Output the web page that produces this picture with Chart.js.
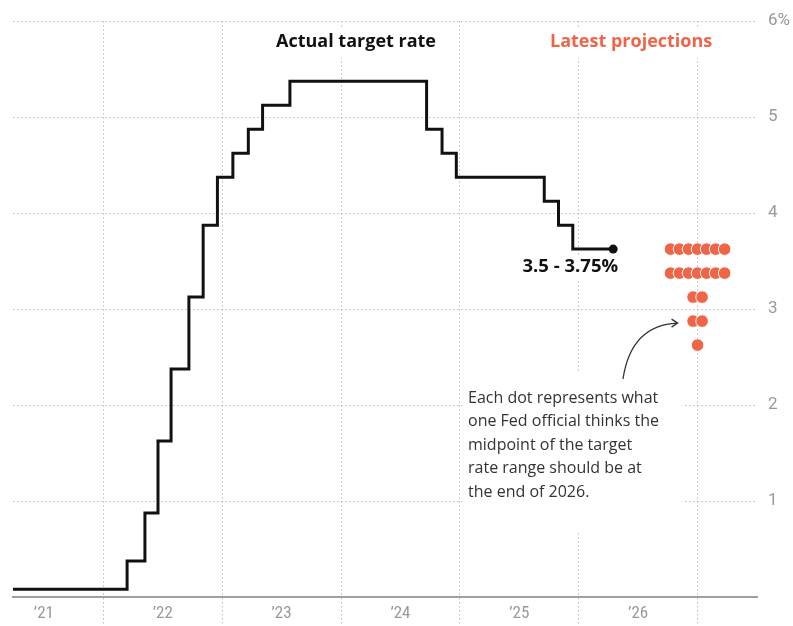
<!DOCTYPE html>
<html>
<head>
<meta charset="utf-8">
<script src="https://cdn.jsdelivr.net/npm/chart.js@4.4.1/dist/chart.umd.min.js"></script>
<style>
  body { margin: 0; background: #fff; }
  #wrap { width: 793px; height: 626px; }
</style>
</head>
<body>
<div id="wrap"><canvas id="grafico" width="793" height="626"></canvas></div>
<script>
// datas das decisões (ano decimal) e ponto médio da faixa
const rateDates = [2021.24, 2022.20, 2022.35, 2022.46, 2022.57, 2022.72, 2022.84, 2022.96, 2023.09, 2023.22, 2023.34, 2023.57, 2024.72, 2024.85, 2024.97, 2025.71, 2025.83, 2025.95, 2026.29];
const rateValues = [0.08, 0.375, 0.875, 1.625, 2.375, 3.125, 3.875, 4.375, 4.625, 4.875, 5.125, 5.375, 4.875, 4.625, 4.375, 4.125, 3.875, 3.625, 3.625];

// projeções para o fim de 2026
const projYear = 2027;
const projLevels = [3.625, 3.375, 3.125, 2.875, 2.625];
const projCounts = [7, 7, 2, 2, 1];

const yearTicks = [2021.5, 2022.5, 2023.5, 2024.5, 2025.5, 2026.5];
const yearLabels = ['\u201921', '\u201922', '\u201923', '\u201924', '\u201925', '\u201926'];
const yearLines = [2022, 2023, 2024, 2025, 2026, 2027];
const yTicks = [0, 1, 2, 3, 4, 5, 6];
const yLabels = ['', '1', '2', '3', '4', '5', '6%'];

const laranja = '#ef6548';
const gridCor = '#bdbdbd';
const fonte = '"Open Sans", Roboto, sans-serif';
const dotStep = 0.076; // espaçamento entre bolinhas, em anos

const linhaPontos = rateDates.map((d, i) => ({ x: d, y: rateValues[i] }));
const projPontos = [];
projLevels.forEach((nivel, r) => {
  const n = projCounts[r];
  for (let i = 0; i < n; i++) {
    projPontos.push({ x: projYear + (i - (n - 1) / 2) * dotStep, y: nivel });
  }
});

const anotacoes = {
  id: 'anotacoes',
  beforeDatasetsDraw(chart) {
    const ctx = chart.ctx;
    const x = chart.scales.x, y = chart.scales.y;
    ctx.save();
    ctx.fillStyle = '#fff';
    // fundos brancos por trás dos textos
    ctx.fillRect(268, 28, 176, 30);
    ctx.fillRect(544, 28, 178, 30);
    ctx.fillRect(462, 372, 220, 160);
    const ex = x.getPixelForValue(rateDates[rateDates.length - 1]);
    const ey = y.getPixelForValue(rateValues[rateValues.length - 1]);
    ctx.fillRect(ex - 96, ey + 8, 106, 24);
    ctx.restore();
  },
  afterDraw(chart) {
    const ctx = chart.ctx;
    const x = chart.scales.x, y = chart.scales.y;
    ctx.save();
    ctx.textBaseline = 'middle';
    ctx.textAlign = 'left';
    ctx.font = 'bold 18px ' + fonte;
    ctx.fillStyle = '#111';
    ctx.fillText('Actual target rate', 276, 42);
    ctx.fillStyle = laranja;
    ctx.fillText('Latest projections', 550, 42);

    // rótulo do último valor
    const ex = x.getPixelForValue(rateDates[rateDates.length - 1]);
    const ey = y.getPixelForValue(rateValues[rateValues.length - 1]);
    ctx.font = 'bold 18.5px ' + fonte;
    ctx.fillStyle = '#111';
    ctx.textAlign = 'right';
    ctx.fillText('3.5 - 3.75%', ex + 5, ey + 18);

    // nota explicativa
    ctx.textAlign = 'left';
    ctx.font = '16px ' + fonte;
    ctx.fillStyle = '#333';
    const linhas = ['Each dot represents what', 'one Fed official thinks the', 'midpoint of the target', 'rate range should be at', 'the end of 2026.'];
    linhas.forEach((t, i) => ctx.fillText(t, 468, 398 + i * 23.5));

    // seta curva
    const sx = 623, sy = 379;
    const tx = x.getPixelForValue(projYear) - 20, ty = y.getPixelForValue(2.875) + 2;
    ctx.strokeStyle = '#333';
    ctx.lineWidth = 1.3;
    ctx.beginPath();
    ctx.moveTo(sx, sy);
    ctx.quadraticCurveTo(sx + 8, ty + 2, tx, ty);
    ctx.stroke();
    ctx.beginPath();
    ctx.moveTo(tx - 6, ty - 4);
    ctx.lineTo(tx, ty);
    ctx.lineTo(tx - 6, ty + 4);
    ctx.stroke();
    ctx.restore();
  }
};

new Chart(document.getElementById('grafico'), {
  type: 'line',
  data: {
    datasets: [
      {
        data: linhaPontos,
        stepped: true,
        borderColor: '#111',
        borderWidth: 3,
        borderJoinStyle: 'miter',
        backgroundColor: '#111',
        pointRadius: c => c.dataIndex === rateDates.length - 1 ? 4.5 : 0,
        pointBorderWidth: 0,
        fill: false
      },
      {
        data: projPontos,
        showLine: false,
        pointRadius: 6.3,
        pointBackgroundColor: laranja,
        pointBorderColor: '#fff',
        pointBorderWidth: 1
      }
    ]
  },
  options: {
    responsive: false,
    animation: false,
    layout: { padding: { left: 13, top: 20, right: 0, bottom: 0 } },
    plugins: { legend: { display: false }, tooltip: { enabled: false } },
    scales: {
      x: {
        type: 'linear',
        min: 2021.24,
        max: 2027.5,
        afterBuildTicks: s => {
          s.ticks = yearTicks.concat(yearLines).sort((a, b) => a - b).map(v => ({ value: v }));
        },
        afterFit: s => { s.height = 29; },
        grid: {
          drawTicks: true,
          tickLength: 29,
          color: c => yearLines.includes(c.tick && c.tick.value) ? gridCor : 'rgba(0,0,0,0)',
          tickColor: c => yearLines.includes(c.tick && c.tick.value) ? gridCor : 'rgba(0,0,0,0)',
          tickBorderDash: [1.5, 2.5],
          lineWidth: 1
        },
        border: { display: true, color: '#a0a0a0', width: 2, dash: [1.5, 2.5] },
        ticks: {
          padding: -22,
          maxRotation: 0,
          autoSkip: false,
          color: '#999',
          font: { family: '"Liberation Sans Narrow", "Roboto Condensed", Roboto, sans-serif', size: 17 },
          callback: v => {
            const i = yearTicks.indexOf(v);
            return i >= 0 ? yearLabels[i] : '';
          }
        }
      },
      y: {
        position: 'right',
        min: 0,
        max: 6,
        afterBuildTicks: s => { s.ticks = yTicks.map(v => ({ value: v })); },
        afterFit: s => { s.width = 36; },
        grid: {
          drawTicks: false,
          color: c => c.tick && c.tick.value === 0 ? 'rgba(0,0,0,0)' : gridCor,
          lineWidth: 1
        },
        border: { display: false, dash: [1.5, 2.5] },
        ticks: {
          padding: 11,
          color: '#999',
          font: { family: 'Roboto, sans-serif', size: 17 },
          callback: v => yLabels[yTicks.indexOf(v)]
        }
      }
    }
  },
  plugins: [anotacoes]
});
</script>
</body>
</html>
